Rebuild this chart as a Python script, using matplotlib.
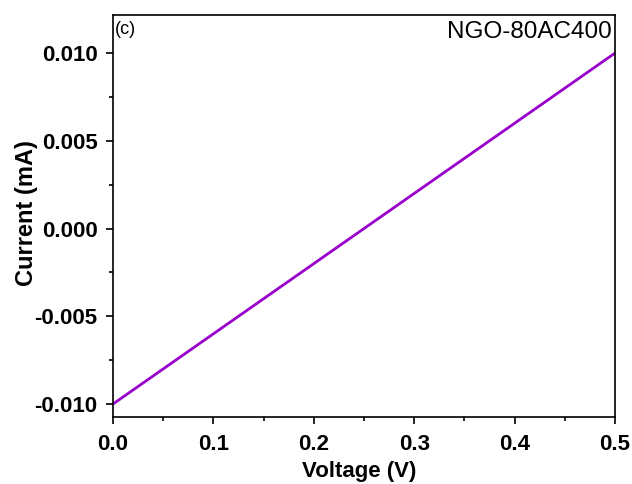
import matplotlib
matplotlib.use("Agg")
import matplotlib.pyplot as plt
from matplotlib.ticker import MultipleLocator

plt.rcParams['font.family'] = ['Liberation Sans', 'DejaVu Sans']

# I-V data
voltage = [0.0, 0.1, 0.2, 0.3, 0.4, 0.5]
current = [-0.010, -0.006, -0.002, 0.002, 0.006, 0.010]
sample_label = "NGO-80AC400"
panel_label = "(c)"

fig = plt.figure(figsize=(6.32, 4.84), dpi=100)
ax = fig.add_axes([113/632, 1 - 417/484, (615-113)/632, (417-15)/484])

ax.plot(voltage, current, color="#9900CC", lw=2)

ax.set_xlim(0, 0.5)
ax.set_ylim(-0.01074, 0.01217)
ax.xaxis.set_major_locator(MultipleLocator(0.1))
ax.xaxis.set_minor_locator(MultipleLocator(0.05))
ax.yaxis.set_major_locator(MultipleLocator(0.005))
ax.yaxis.set_minor_locator(MultipleLocator(0.0025))
ax.xaxis.set_major_formatter(plt.FuncFormatter(lambda v, p: f"{v:.1f}"))
ax.yaxis.set_major_formatter(plt.FuncFormatter(lambda v, p: f"{v:.3f}"))

ax.tick_params(which="major", direction="out", length=5, width=1.2, labelsize=16)
ax.tick_params(axis="x", which="major", pad=7)
ax.tick_params(axis="y", which="major", pad=6)
ax.tick_params(which="minor", direction="out", length=3, width=1.2)
for lab in ax.get_xticklabels() + ax.get_yticklabels():
    lab.set_fontweight("bold")
for s in ax.spines.values():
    s.set_linewidth(1.2)

ax.set_xlabel("Voltage (V)", fontsize=16, fontweight="bold")
ax.set_ylabel("Current (mA)", fontsize=17, fontweight="bold")
ax.xaxis.set_label_coords(0.491, -0.110)
ax.yaxis.set_label_coords(-0.149, 0.508)

ax.text(0.003, 0.985, panel_label, transform=ax.transAxes, ha="left", va="top", fontsize=13)
ax.text(0.994, 0.985, sample_label, transform=ax.transAxes, ha="right", va="top", fontsize=17.5)

fig.savefig("out.png", dpi=100)
